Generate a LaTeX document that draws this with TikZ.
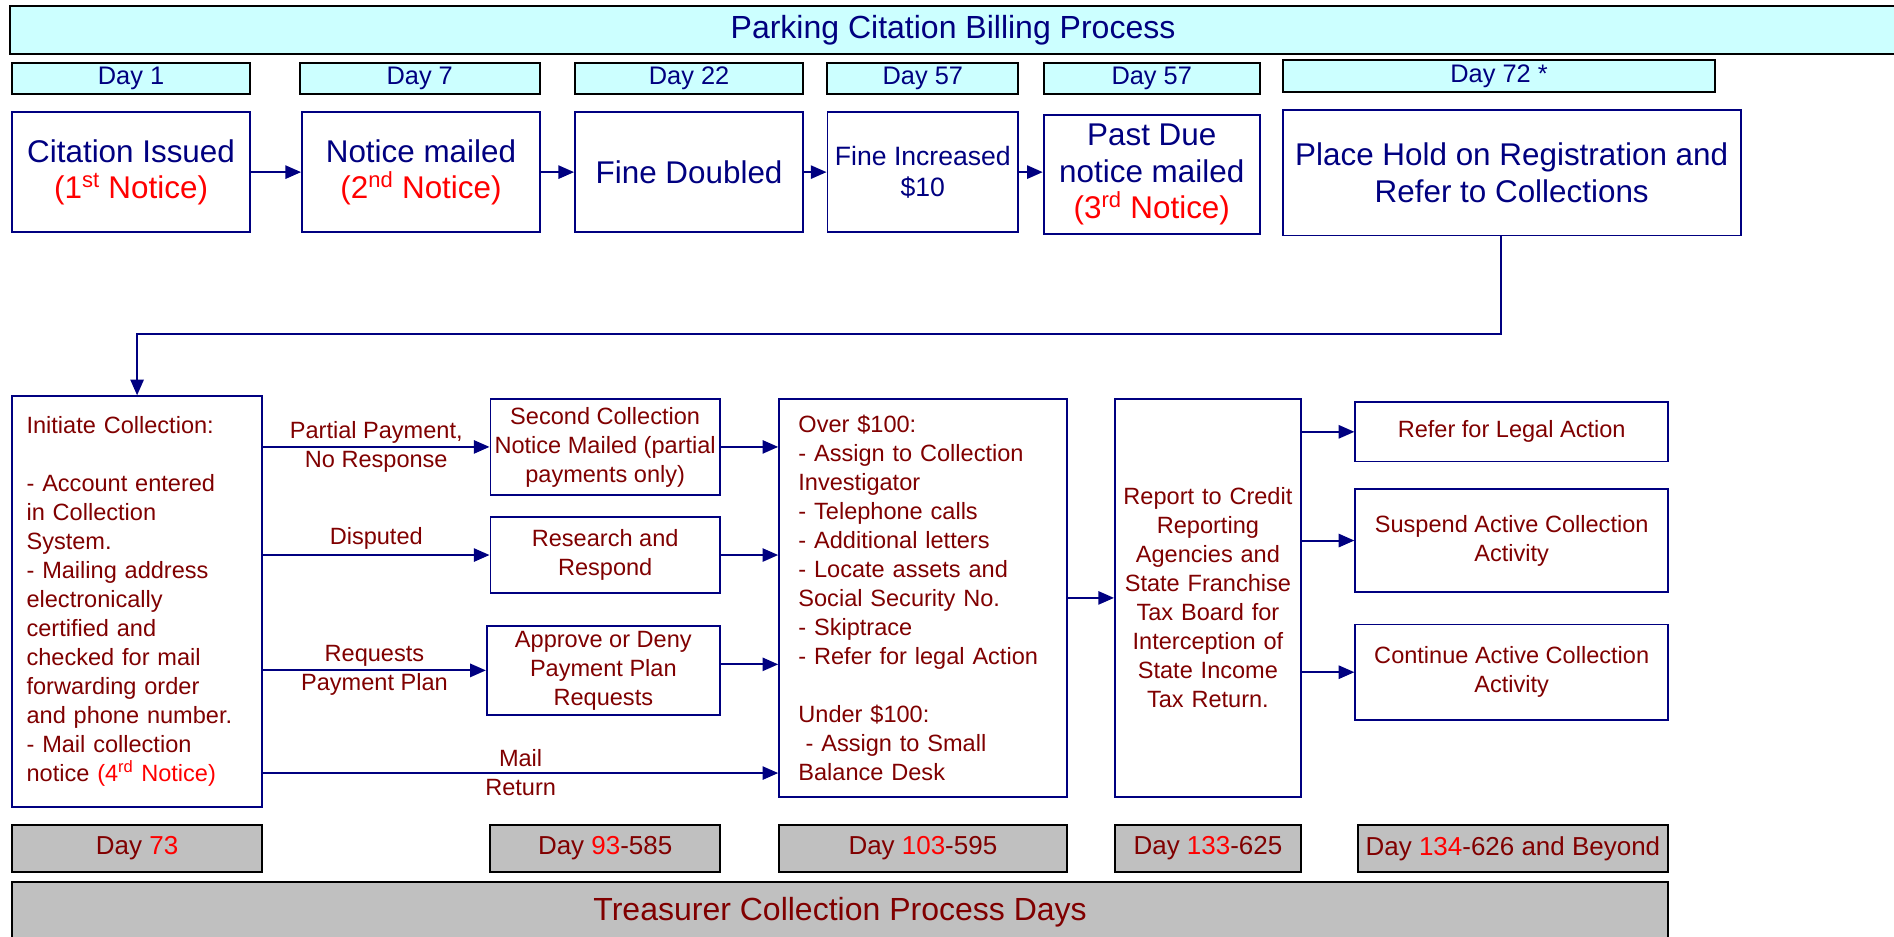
\documentclass[tikz,border=0pt]{standalone}
\usepackage{fontspec}
\setmainfont{Liberation Sans}
\usepackage{xcolor}
\usepackage{tikz}
\usetikzlibrary{arrows.meta, positioning, calc}

\definecolor{navyblue}{RGB}{0,0,128}
\definecolor{darkmaroon}{RGB}{128,0,0}
\definecolor{noticered}{RGB}{255,0,0}
\definecolor{lightcyan}{RGB}{204,255,255}
\definecolor{boxgray}{RGB}{192,192,192}

\begin{document}
\begin{tikzpicture}[
        x=1pt, y=-1pt,
        titlebar/.style={
            rectangle, draw=black, line width=1.6pt, fill=lightcyan,
            text=navyblue, inner sep=0pt, minimum height=40pt,
            font=\fontsize{26.5}{30}\selectfont
        },
        daylabel/.style={
            rectangle, draw=black, line width=1.6pt, fill=lightcyan,
            text=navyblue, inner sep=0pt, minimum height=26pt,
            font=\fontsize{21}{24}\selectfont
        },
        stepbox/.style={
            rectangle, draw=navyblue, line width=1.5pt, fill=white,
            text=navyblue, align=center, inner sep=0pt,
            font=\fontsize{26}{30}\selectfont
        },
        actionbox/.style={
            rectangle, draw=navyblue, line width=1.5pt, fill=white,
            text=darkmaroon, align=center, inner sep=0pt,
            font=\fontsize{19.5}{24}\selectfont
        },
        graybox/.style={
            rectangle, draw=black, line width=1.6pt, fill=boxgray,
            text=darkmaroon, inner sep=0pt, minimum height=39pt,
            font=\fontsize{21.5}{24}\selectfont
        },
        arrow/.style={-{Triangle[length=13pt, width=11pt]}, line width=1.6pt, draw=navyblue},
        flowlabel/.style={text=darkmaroon, align=center, inner sep=1pt,
            font=\fontsize{19.5}{24}\selectfont}
    ]

    \useasboundingbox (0,0) rectangle (1568,775);

    % TITLE
    \node[titlebar, minimum width=1562pt] (title) at (789,25) {Parking Citation Billing Process};

    % DAY LABELS
    \node[daylabel, minimum width=197pt] (day1)  at (108.5,65) {Day 1};
    \node[daylabel, minimum width=199pt] (day7)  at (347.5,65) {Day 7};
    \node[daylabel, minimum width=189pt] (day22) at (570.5,65) {Day 22};
    \node[daylabel, minimum width=158pt] (day57a) at (764,65) {Day 57};
    \node[daylabel, minimum width=179pt] (day57b) at (953.5,65) {Day 57};
    \node[daylabel, minimum width=358pt] (day72) at (1241,63) {Day 72 *};

    % BILLING STEPS
    \node[stepbox, minimum width=197pt, minimum height=99pt] (issued) at (108.5,142.5)
        {Citation Issued\\\textcolor{noticered}{(1\textsuperscript{st} Notice)}};
    \node[stepbox, minimum width=197pt, minimum height=99pt] (mailed) at (348.5,142.5)
        {Notice mailed\\\textcolor{noticered}{(2\textsuperscript{nd} Notice)}};
    \node[stepbox, minimum width=189pt, minimum height=99pt] (doubled) at (570.5,142.5)
        {Fine Doubled};
    \node[stepbox, minimum width=158pt, minimum height=99pt, font=\fontsize{22}{26}\selectfont]
        (increased) at (764,142.5) {Fine Increased\\\$10};
    \node[stepbox, minimum width=179pt, minimum height=99pt] (pastdue) at (953.5,144.5)
        {Past Due\\notice mailed\\\textcolor{noticered}{(3\textsuperscript{rd} Notice)}};
    \node[stepbox, minimum width=379pt, minimum height=104pt] (hold) at (1251.5,143)
        {Place Hold on Registration and\\Refer to Collections};

    % COLLECTION STEPS
    \node[actionbox, minimum width=207pt, minimum height=340pt, text width=183pt, align=left]
        (initiate) at (113.5,498) {Initiate Collection:\\[24pt]
        - Account entered\\in Collection\\System.\\- Mailing address\\electronically\\certified and\\
        checked for mail\\forwarding order\\and phone number.\\- Mail collection\\
        notice \textcolor{noticered}{(4\textsuperscript{rd} Notice)}};

    \node[actionbox, minimum width=190pt, minimum height=80pt] (second) at (501,370)
        {Second Collection\\Notice Mailed (partial\\payments only)};
    \node[actionbox, minimum width=190pt, minimum height=63pt] (research) at (501,459.5)
        {Research and\\Respond};
    \node[actionbox, minimum width=193pt, minimum height=74pt] (approve) at (499.5,555)
        {Approve or Deny\\Payment Plan\\Requests};

    \node[actionbox, minimum width=238pt, minimum height=330pt, text width=206pt, align=left]
        (over) at (764,495) {Over \$100:\\- Assign to Collection\\Investigator\\- Telephone calls\\
        - Additional letters\\- Locate assets and\\Social Security No.\\- Skiptrace\\
        - Refer for legal Action\\[24pt]Under \$100:\\\hspace*{6pt}- Assign to Small\\Balance Desk};

    \node[actionbox, minimum width=154pt, minimum height=330pt, text width=150pt]
        (report) at (1000,495) {Report to Credit\\Reporting\\Agencies and\\State Franchise\\
        Tax Board for\\Interception of\\State Income\\Tax Return.};

    \node[actionbox, minimum width=259pt, minimum height=49pt] (legal) at (1251.5,357.5)
        {Refer for Legal Action};
    \node[actionbox, minimum width=259pt, minimum height=85pt] (suspend) at (1251.5,447.5)
        {Suspend Active Collection\\Activity};
    \node[actionbox, minimum width=259pt, minimum height=79pt] (continue) at (1251.5,556.5)
        {Continue Active Collection\\Activity};

    % TREASURER DAYS
    \node[graybox, minimum width=207pt] (g73)  at (113.5,702.5) {Day \textcolor{noticered}{73}};
    \node[graybox, minimum width=190pt] (g93)  at (501,702.5) {Day \textcolor{noticered}{93}-585};
    \node[graybox, minimum width=238pt] (g103) at (764,702.5) {Day \textcolor{noticered}{103}-595};
    \node[graybox, minimum width=154pt] (g133) at (1000,702.5) {Day \textcolor{noticered}{133}-625};
    \node[graybox, minimum width=257pt] (g134) at (1252.5,702.5) {Day \textcolor{noticered}{134}-626 and Beyond};
    \node[graybox, minimum width=1371pt, minimum height=50pt, font=\fontsize{26.5}{30}\selectfont]
        (treasurer) at (695.5,755) {Treasurer Collection Process Days};

    % ARROWS
    \draw[arrow] (issued) -- (mailed);
    \draw[arrow] (mailed) -- (doubled);
    \draw[arrow] (doubled) -- (increased);
    \draw[arrow] (increased) -- (pastdue.west |- increased);
    \draw[arrow] ([xshift=-9pt]hold.south) -- ++(0,81) -| (initiate.north);

    \draw[arrow] (initiate.east |- second) -- node[flowlabel] {Partial Payment,\\No Response} (second.west);
    \draw[arrow] (initiate.east |- research) -- node[flowlabel, above=3pt] {Disputed} (research.west);
    \draw[arrow] (initiate.east |- approve) -- node[flowlabel] {Requests\\Payment Plan} (approve.west);
    \draw[arrow] (initiate.east |- 0,640) -- node[flowlabel] {Mail\\Return} (over.west |- 0,640);

    \draw[arrow] (second) -- (over.west |- second);
    \draw[arrow] (research) -- (over.west |- research);
    \draw[arrow] (approve.east |- 0,550) -- (over.west |- 0,550);
    \draw[arrow] (over) -- (report);

    \draw[arrow] (report.east |- legal) -- (legal);
    \draw[arrow] (report.east |- suspend) -- (suspend);
    \draw[arrow] (report.east |- continue) -- (continue);

\end{tikzpicture}
\end{document}
